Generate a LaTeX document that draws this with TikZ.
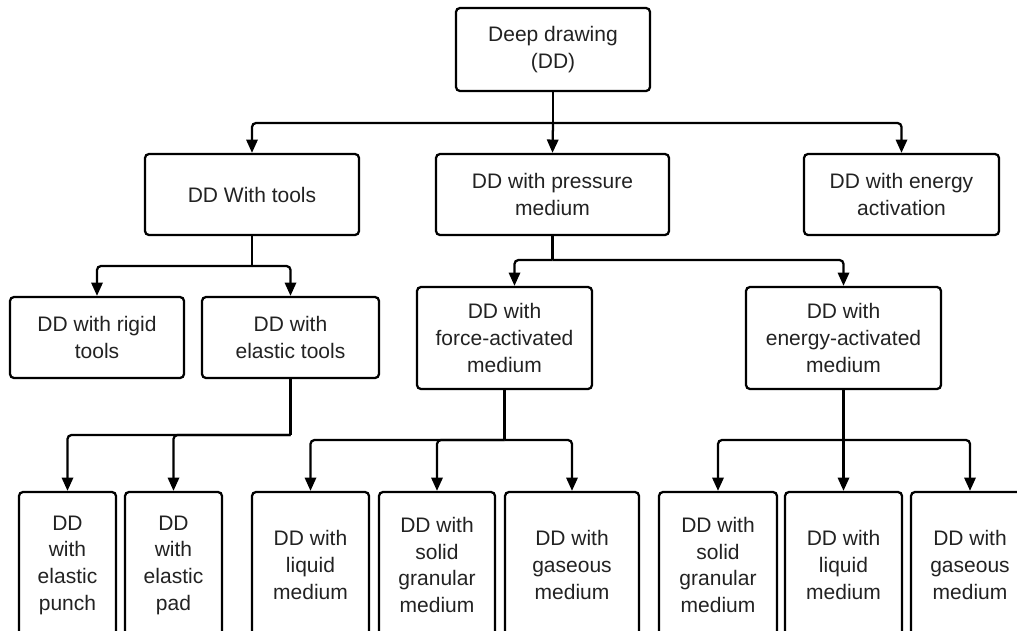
\documentclass[tikz,border=0pt]{standalone}
\usepackage{fontspec}
\setmainfont{Liberation Sans}
\usetikzlibrary{arrows.meta}
\definecolor{txt}{HTML}{222222}
\tikzset{
  box/.style 2 args={draw=black, line width=1.7pt, rounded corners=3pt, inner sep=0pt,
    minimum width=#1*0.75pt, minimum height=#2*0.75pt, align=center, text=txt,
    font=\fontsize{15.75}{20}\selectfont},
  conn/.style={draw=black, line width=1.7pt, rounded corners=3pt},
  arr/.style={conn, -{Triangle[length=10pt,width=8.5pt]}}
}
\begin{document}
\begin{tikzpicture}[x=0.75pt,y=-0.75pt]
\useasboundingbox (0,0) rectangle (1017,633);
\fill[white] (0,0) rectangle (1017,633);
\clip (0,0) rectangle (1017,630);
% level 1
\node[box={194}{83}] (top) at (553,49.5) {Deep drawing\\(DD)};
% level 2
\node[box={214}{81}] (tools) at (252,194.5) {DD With tools};
\node[box={233}{81}] (press) at (552.5,194.5) {DD with pressure\\medium};
\node[box={195}{81}] (energy) at (901.5,194.5) {DD with energy\\activation};
% level 3
\node[box={174}{81}] (rigid) at (97,337.5) {DD with rigid\\tools};
\node[box={177}{81}] (elastic) at (290.5,337.5) {DD with\\elastic tools};
\node[box={175}{102}] (fam) at (504.5,338) {DD with\\force-activated\\medium};
\node[box={195}{102}] (eam) at (843.5,338) {DD with\\energy-activated\\medium};
% level 4
\node[box={97}{146}] (punch) at (67.5,565) {DD\\with\\elastic\\punch};
\node[box={97}{146}] (pad) at (173.5,565) {DD\\with\\elastic\\pad};
\node[box={117}{146}] (liq1) at (310.5,565) {DD with\\liquid\\medium};
\node[box={116}{146}] (sol1) at (437,565) {DD with\\solid\\granular\\medium};
\node[box={134}{146}] (gas1) at (572,565) {DD with\\gaseous\\medium};
\node[box={118}{146}] (sol2) at (718,565) {DD with\\solid\\granular\\medium};
\node[box={117}{146}] (liq2) at (843.5,565) {DD with\\liquid\\medium};
\node[box={118}{146}] (gas2) at (970,565) {DD with\\gaseous\\medium};
% junctions
\coordinate (j1) at (553,123);
\coordinate (j2) at (252,266);
\coordinate (j3) at (552.5,260);
\coordinate (j4) at (290.5,435);
\coordinate (j5) at (504.5,440);
\coordinate (j6) at (843.5,440);
% connectors
\draw[conn] (top.south) -- (j1);
\draw[arr] (j1) -| (tools.north);
\draw[arr] (j1) -- (press.north);
\draw[arr] (j1) -| (energy.north);
\draw[conn] (tools.south) -- (j2);
\draw[arr] (j2) -| (rigid.north);
\draw[arr] (j2) -| (elastic.north);
\draw[conn] (press.south) -- (j3);
\draw[arr] (j3) -| ([xshift=7.5pt]fam.north);
\draw[arr] (j3) -| (eam.north);
\draw[conn] (elastic.south) -- (j4);
\draw[arr] (j4) -| (punch.north);
\draw[arr] (j4) -| (pad.north);
\draw[conn] (fam.south) -- (j5);
\draw[arr] (j5) -| (liq1.north);
\draw[arr] (j5) -| (sol1.north);
\draw[arr] (j5) -| (gas1.north);
\draw[arr] (eam.south) -- (liq2.north);
\draw[arr] (j6) -| (sol2.north);
\draw[arr] (j6) -| (gas2.north);
\end{tikzpicture}
\end{document}
